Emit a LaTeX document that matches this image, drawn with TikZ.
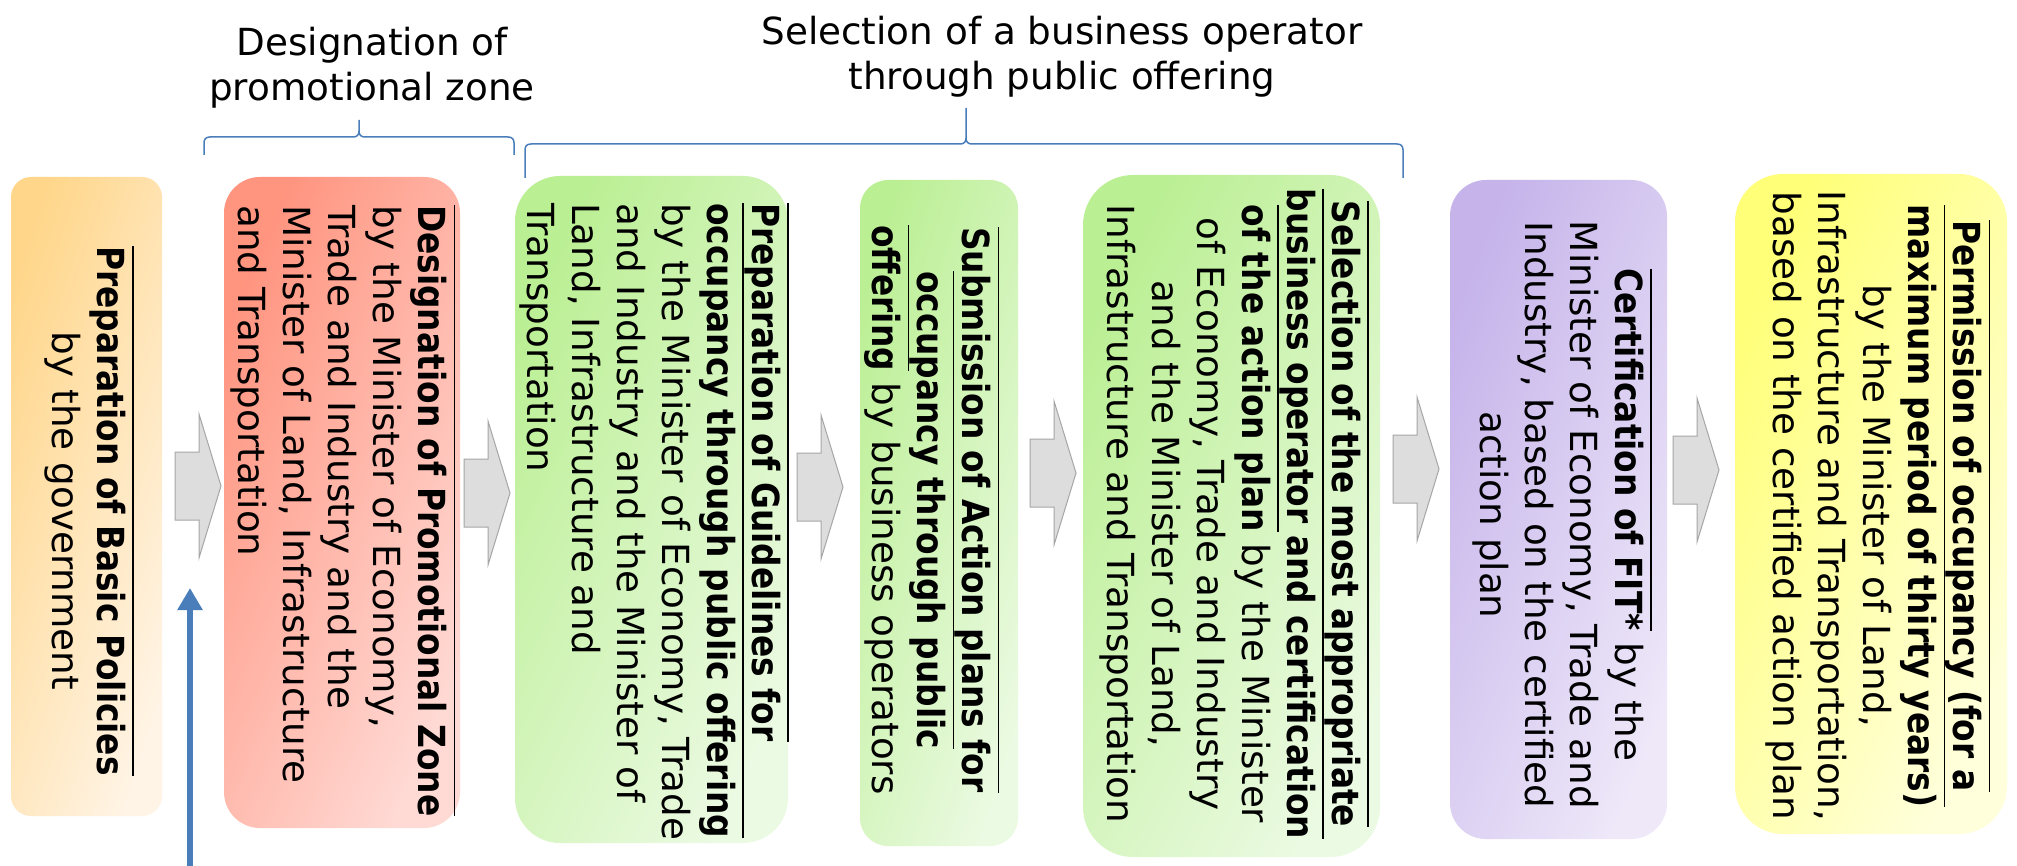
\documentclass[tikz,border=0pt]{standalone}
\usepackage{fontspec}
\setmainfont{DejaVu Sans}
\newfontfamily\narrowdv{DejaVu Sans}[FakeStretch=0.88]
\usetikzlibrary{arrows.meta}
\definecolor{or1}{HTML}{FFD68A}\definecolor{or2}{HTML}{FFF4E6}
\definecolor{rd1}{HTML}{FF947F}\definecolor{rd2}{HTML}{FFDAD5}
\definecolor{gr1}{HTML}{BBEF94}\definecolor{gr2}{HTML}{EBFAE2}
\definecolor{pu1}{HTML}{C5B3EA}\definecolor{pu2}{HTML}{EEE8F9}
\definecolor{ye1}{HTML}{FFFF78}\definecolor{ye2}{HTML}{FFFFDC}
\definecolor{bl}{HTML}{4A7EBB}
\definecolor{arf}{HTML}{DDDDDD}\definecolor{ard}{HTML}{A6A6A6}
\newsavebox\olbox
\newcommand\bt[1]{{\narrowdv\bfseries #1}}
\newcommand\olb[1]{\leavevmode\sbox\olbox{\bt{#1}}\rlap{\raisebox{35pt}[0pt][0pt]{\rule{\wd\olbox}{1.5pt}}}\usebox\olbox}
\tikzset{
  boxsty/.style={rectangle, inner sep=0pt, draw=none},
  txt/.style={inner sep=0pt, rotate=-90, font=\fontsize{37.3}{45}\selectfont},
  lab/.style={inner sep=0pt, align=center, font=\fontsize{37.3}{45}\selectfont},
  barr/.style={fill=arf, draw=ard, line width=1pt},
  brace/.style={draw=bl, line width=1.5pt},
  bluearr/.style={draw=bl, line width=6pt, -{Triangle[width=24pt,length=22pt]}, bl}
}
\begin{document}
\begin{tikzpicture}[x=1pt,y=-1pt]
\useasboundingbox[fill=white] (0,0) rectangle (2017,866);
% boxes
\node[boxsty, minimum width=151, minimum height=639, rounded corners=20, top color=or1, bottom color=or2, shading angle=72] (b1) at (86.5,496.5) {};
\node[boxsty, minimum width=236, minimum height=651, rounded corners=36, top color=rd1, bottom color=rd2, shading angle=66] (b2) at (342,502.5) {};
\node[boxsty, minimum width=273, minimum height=667, rounded corners=45, top color=gr1, bottom color=gr2, shading angle=64] (b3) at (651.5,509.5) {};
\node[boxsty, minimum width=158, minimum height=666, rounded corners=28, top color=gr1, bottom color=gr2, shading angle=72] (b4) at (939,513) {};
\node[boxsty, minimum width=297, minimum height=682, rounded corners=50, top color=gr1, bottom color=gr2, shading angle=62] (b5) at (1231.5,516) {};
\node[boxsty, minimum width=217, minimum height=659, rounded corners=36, top color=pu1, bottom color=pu2, shading angle=68] (b6) at (1558.5,509.5) {};
\node[boxsty, minimum width=272, minimum height=660, rounded corners=48, top color=ye1, bottom color=ye2, shading angle=64] (b7) at (1871,504) {};
% texts
\node[txt, align=center] (t1) at (85,511) {\olb{Preparation of Basic Policies}\\by the government};
\node[txt, align=left, anchor=west] (t2) at (339,205) {\olb{Designation of Promotional Zone}\\by the Minister of Economy,\\Trade and Industry and the\\Minister of Land, Infrastructure\\and Transportation};
\node[txt, align=left, anchor=west] (t3) at (650,203) {\olb{Preparation of Guidelines for}\\\olb{occupancy through public offering}\\by the Minister of Economy, Trade\\and Industry and the Minister of\\Land, Infrastructure and\\Transportation};
\node[txt, align=center] (t4) at (928,510) {\olb{Submission of Action plans for}\\\olb{occupancy through public}\\\olb{offering} by business operators};
\node[txt, align=center] (t5) at (1230,514) {\olb{Selection of the most appropriate}\\\olb{business operator and certification}\\\olb{of the action plan} by the Minister\\of Economy, Trade and Industry\\and the Minister of Land,\\Infrastructure and Transportation};
\node[txt, align=center] (t6) at (1558,515) {\olb{Certification of FIT*} by the\\Minister of Economy, Trade and\\Industry, based on the certified\\action plan};
\node[txt, align=center] (t7) at (1874,506) {\olb{Permission of occupancy (for a}\\\olb{maximum period of thirty years)}\\by the Minister of Land,\\Infrastructure and Transportation,\\based on the certified action plan};
% block arrows
\foreach \cx/\cy [count=\i] in {198/486, 487/493, 820/487, 1053/473, 1416/469, 1696/470}{
  \coordinate (a\i) at (\cx,\cy);
  \draw[barr, shift={(a\i)}] (-23,-34) -- (1,-34) -- (1,-72) -- (23,0) -- (1,72) -- (1,34) -- (-23,34) -- cycle;
}
% labels
\node[lab] (lab1) at (372,68) {Designation of\\promotional zone};
\node[lab] (lab2) at (1062,57) {Selection of a business operator\\through public offering};
% braces
\draw[brace] (204,155) -- (204,143) .. controls (204,139) and (206,137) .. (210,137) -- (353,137) .. controls (357,137) and (359,135) .. (359,131) -- (359,120);
\draw[brace] (359,131) .. controls (359,135) and (361,137) .. (365,137) -- (508,137) .. controls (512,137) and (514,139) .. (514,143) -- (514,155);
\draw[brace] (525,178) -- (525,150) .. controls (525,146) and (527,144) .. (531,144) -- (960,144) .. controls (964,144) and (966,142) .. (966,138) -- (966,108);
\draw[brace] (966,138) .. controls (966,142) and (968,144) .. (972,144) -- (1397,144) .. controls (1401,144) and (1403,146) .. (1403,150) -- (1403,178);
% blue arrow
\coordinate (bs) at (190,866);
\coordinate (bt) at (190,588);
\draw[bluearr] (bs) -- (bt);
\end{tikzpicture}
\end{document}
